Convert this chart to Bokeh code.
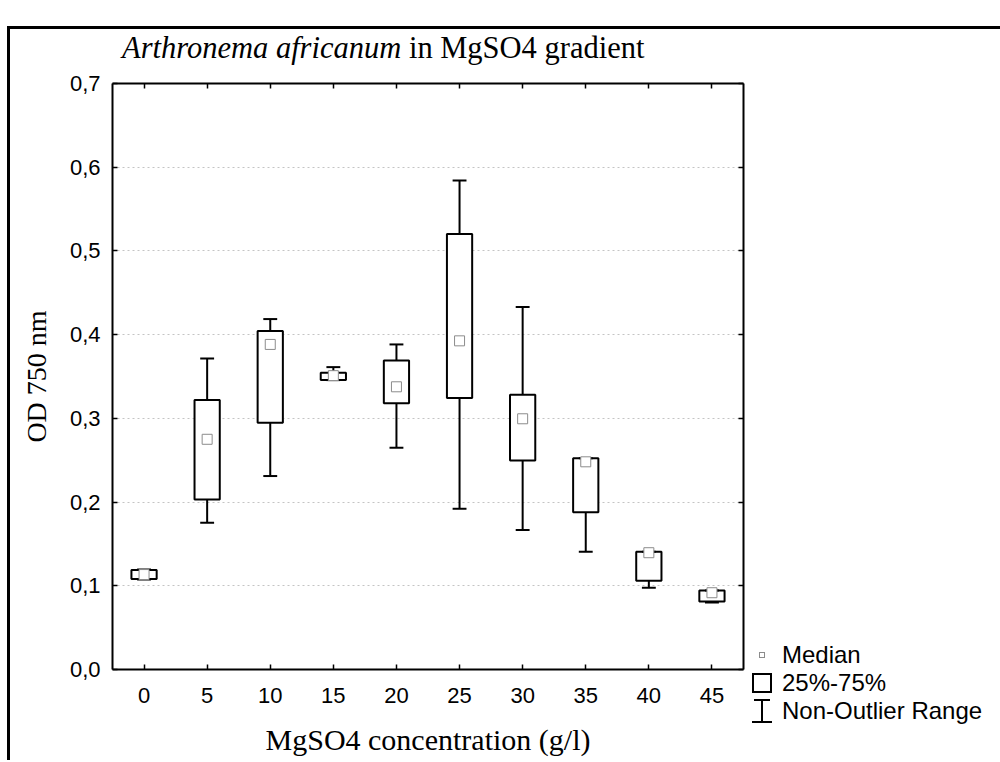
from bokeh.plotting import figure
from bokeh.models import Range1d, FixedTicker, LinearAxis, CustomJSTickFormatter, ColumnDataSource, Div
from bokeh.layouts import row, column
from bokeh.embed import file_html
from bokeh.resources import INLINE

# ---------------- data ----------------
concentrations = [0, 5, 10, 15, 20, 25, 30, 35, 40, 45]
medians = [0.1134, 0.2750, 0.3883, 0.3510, 0.3377, 0.3926, 0.2995, 0.2481, 0.1395, 0.0917]
q25 = [0.1081, 0.2032, 0.2947, 0.3457, 0.3179, 0.3242, 0.2498, 0.1877, 0.1060, 0.0813]
q75 = [0.1188, 0.3218, 0.4044, 0.3544, 0.3692, 0.5201, 0.3282, 0.2522, 0.1407, 0.0944]
whisker_low = [0.1075, 0.1753, 0.2311, 0.3457, 0.2649, 0.1920, 0.1666, 0.1407, 0.0977, 0.0800]
whisker_high = [0.1195, 0.3716, 0.4186, 0.3612, 0.3883, 0.5842, 0.4329, 0.2522, 0.1407, 0.0944]
y_ticks = [0.0, 0.1, 0.2, 0.3, 0.4, 0.5, 0.6, 0.7]
x_ticks = [0, 5, 10, 15, 20, 25, 30, 35, 40, 45]
legend_labels = ["Median", "25%-75%", "Non-Outlier Range"]
title_italic = "Arthronema africanum"
title_rest = "in MgSO4 gradient"

BOX_HALF = 1.0
CAP_HALF = 0.55

src = ColumnDataSource(dict(
    x=concentrations, med=medians, q25=q25, q75=q75, wl=whisker_low, wh=whisker_high,
    left=[c - BOX_HALF for c in concentrations], right=[c + BOX_HALF for c in concentrations],
    cl=[c - CAP_HALF for c in concentrations], cr=[c + CAP_HALF for c in concentrations],
))

SERIF = "Liberation Serif"
SANS = "Liberation Sans"

TITLE_H = 69
p = figure(width=748, height=691, x_range=Range1d(-2.5, 47.5), y_range=Range1d(0, 0.7),
           output_backend="svg", toolbar_location=None,
           min_border_left=112, min_border_right=5, min_border_top=14, min_border_bottom=91)
p.border_fill_color = None
p.background_fill_color = "white"
p.outline_line_color = None
p.margin = 0

# axes
p.xaxis.ticker = FixedTicker(ticks=x_ticks)
p.yaxis.ticker = FixedTicker(ticks=y_ticks)
p.yaxis.formatter = CustomJSTickFormatter(code="return tick.toFixed(1).replace('.', ',');")
p.xaxis.axis_label = "MgSO4 concentration (g/l)"
p.yaxis.axis_label = "OD 750 nm"
for ax in (p.xaxis[0], p.yaxis[0]):
    ax.axis_line_width = 2
    ax.axis_line_color = "black"
    ax.major_tick_in = 5
    ax.major_tick_out = 0
    ax.major_tick_line_color = "black"
    ax.major_tick_line_width = 1.5
    ax.minor_tick_line_color = None
    ax.major_label_text_font = SANS
    ax.major_label_text_font_size = "22px"
    ax.major_label_text_color = "black"
    ax.axis_label_text_font = SERIF
    ax.axis_label_text_font_style = "normal"
    ax.axis_label_text_color = "black"
p.xaxis.major_label_standoff = 18
p.xaxis.axis_label_standoff = 17
p.xaxis.axis_label_text_font_size = "30px"
p.yaxis.major_label_standoff = 12
p.yaxis.axis_label_standoff = 15
p.yaxis.axis_label_text_font_size = "28px"

def frame_axis(ticks):
    return LinearAxis(ticker=FixedTicker(ticks=ticks), major_label_text_font_size="1px",
                      major_label_text_color=None, major_label_standoff=0,
                      axis_line_width=2, axis_line_color="black",
                      major_tick_in=5, major_tick_out=0, major_tick_line_width=1.5,
                      major_tick_line_color="black", minor_tick_line_color=None)

p.add_layout(frame_axis(x_ticks), "above")
p.add_layout(frame_axis(y_ticks), "right")

p.xgrid.visible = False
p.ygrid.ticker = FixedTicker(ticks=y_ticks)
p.ygrid.grid_line_color = "#c4c4c4"
p.ygrid.grid_line_dash = "2 3"
p.ygrid.grid_line_width = 1

# boxes and whiskers
p.segment(x0="x", y0="wl", x1="x", y1="wh", source=src, line_color="black", line_width=2)
p.quad(left="left", right="right", bottom="q25", top="q75", source=src,
       fill_color="white", line_color="black", line_width=2)
p.segment(x0="cl", y0="wh", x1="cr", y1="wh", source=src, line_color="black", line_width=2)
p.segment(x0="cl", y0="wl", x1="cr", y1="wl", source=src, line_color="black", line_width=2)
p.scatter(x="x", y="med", source=src, marker="square", size=10,
          fill_color="white", line_color="#8c8c8c", line_width=1)

# title
title_div = Div(width=1000, height=TITLE_H, margin=0, text=(
    '<div style="padding-left:122px;padding-top:33px;font-family:\'Liberation Serif\';'
    'font-size:30.5px;line-height:30px;color:#000;white-space:nowrap;">'
    f'<i>{title_italic}</i> {title_rest}</div>'))

# legend
row_style = "display:flex;align-items:center;height:28px;"
icon_wrap = "display:inline-block;width:20px;height:24px;margin-left:4px;margin-right:10px;position:relative;"
median_icon = ('<span style="position:absolute;left:7px;top:9px;width:6px;height:6px;'
               'border:1px solid #8c8c8c;background:#fff;"></span>')
box_icon = ('<span style="position:absolute;left:0px;top:2px;width:20px;height:20px;'
            'box-sizing:border-box;border:2px solid #000;"></span>')
range_icon = ('<span style="position:absolute;left:0px;top:0px;width:20px;height:24px;'
              'background-image:linear-gradient(#000,#000),linear-gradient(#000,#000),linear-gradient(#000,#000);'
              'background-size:16px 2px,20px 2px,2px 100%;'
              'background-position:2px 0px,0px 22px,9px 0px;background-repeat:no-repeat;"></span>')
icons = [median_icon, box_icon, range_icon]
rows_html = "".join(
    f'<div style="{row_style}"><span style="{icon_wrap}">{ic}</span><span>{lab}</span></div>'
    for ic, lab in zip(icons, legend_labels))
legend_div = Div(width=252, height=691, margin=0, text=(
    '<div style="padding-top:572px;font-family:\'Liberation Sans\';font-size:24px;'
    f'color:#000;white-space:nowrap;">{rows_html}</div>'))

layout = column(title_div, row(p, legend_div, spacing=0), spacing=0)
layout.styles = {
    "background-image": "linear-gradient(#000,#000), linear-gradient(#000,#000)",
    "background-size": "3px 100%, 100% 3px",
    "background-position": "7px 26px, 7px 26px",
    "background-repeat": "no-repeat",
}

open("out.html", "w").write(file_html(layout, INLINE))
